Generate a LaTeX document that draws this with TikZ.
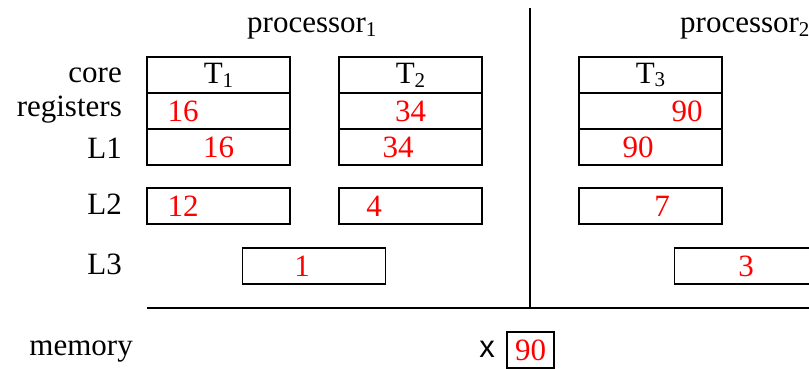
\documentclass[tikz,border=0pt]{standalone}
\usepackage{fontspec}
\setmainfont{Liberation Serif}
\newfontfamily\xfont{Liberation Sans}
\usetikzlibrary{positioning}
\newcommand{\subidx}[1]{\raisebox{-3.8pt}{\fontsize{21}{21}\selectfont #1}}

\begin{document}
\begin{tikzpicture}[x=1pt,y=-1pt,
    every node/.append style={font=\fontsize{31}{37}\selectfont},
    cell/.style={draw,line width=1.1pt,minimum width=143pt,minimum height=36pt,inner sep=0pt,outer sep=0pt},
    val/.style={text=red,inner sep=0pt},
    lbl/.style={anchor=base east,inner sep=0pt}]
  \useasboundingbox (0,0) rectangle (809,369);
  % processors
  \node[anchor=base west,inner sep=0pt] (p1) at (247,33) {processor\subidx{1}};
  \node[anchor=base west,inner sep=0pt] (p2) at (680,33) {processor\subidx{2}};
  % level labels
  \node[lbl] (core) at (122,82) {core};
  \node[lbl] (regs) at (122,117) {registers};
  \node[lbl] (l1) at (122,158) {L1};
  \node[lbl] (l2) at (122,214) {L2};
  \node[lbl] (l3) at (122,274) {L3};
  \node[lbl] (mem) at (133,355) {memory};
  % cores
  \node[cell] (t1core) at (218.5,75) {T\subidx{1}};
  \node[cell,below=0pt of t1core] (t1reg) {};
  \node[cell,below=0pt of t1reg] (t1l1) {};
  \node[cell] (t2core) at (410.5,75) {T\subidx{2}};
  \node[cell,below=0pt of t2core] (t2reg) {};
  \node[cell,below=0pt of t2reg] (t2l1) {};
  \node[cell] (t3core) at (650.5,75) {T\subidx{3}};
  \node[cell,below=0pt of t3core] (t3reg) {};
  \node[cell,below=0pt of t3reg] (t3l1) {};
  % shared caches
  \node[cell] (t1l2) at (218.5,206) {};
  \node[cell] (t2l2) at (410.5,206) {};
  \node[cell] (t3l2) at (650.5,206) {};
  \node[cell] (p1l3) at (314,266) {};
  \node[cell] (p2l3) at (746,266) {};
  % values of x
  \node[val] (v1reg) at ([xshift=-35.5pt]t1reg.center) {16};
  \node[val] (v1l1) at (t1l1.center) {16};
  \node[val] (v2reg) at (t2reg.center) {34};
  \node[val] (v2l1) at ([xshift=-12.5pt]t2l1.center) {34};
  \node[val] (v3reg) at ([xshift=36.5pt]t3reg.center) {90};
  \node[val] (v3l1) at ([xshift=-12.5pt]t3l1.center) {90};
  \node[val] (v1l2) at ([xshift=-35.5pt]t1l2.center) {12};
  \node[val] (v2l2) at ([xshift=-36.5pt]t2l2.center) {4};
  \node[val] (v3l2) at ([xshift=11.5pt]t3l2.center) {7};
  \node[val] (vp1l3) at ([xshift=-12pt]p1l3.center) {1};
  \node[val] (vp2l3) at (p2l3.center) {3};
  % separators
  \coordinate (sepT) at (530,8);
  \coordinate (sepB) at (530,308);
  \coordinate (memL) at (147,308);
  \coordinate (memR) at (809,308);
  \draw[line width=1.1pt] (sepT) -- (sepB);
  \draw[line width=1.1pt] (memL) -- (memR);
  % memory
  \node[anchor=base,inner sep=0pt,font={\fontsize{31}{37}\xfont}] (xname) at (487,357) {x};
  \node[cell,minimum width=47pt,text=red] (xbox) at (530.5,350) {90};
\end{tikzpicture}
\end{document}
